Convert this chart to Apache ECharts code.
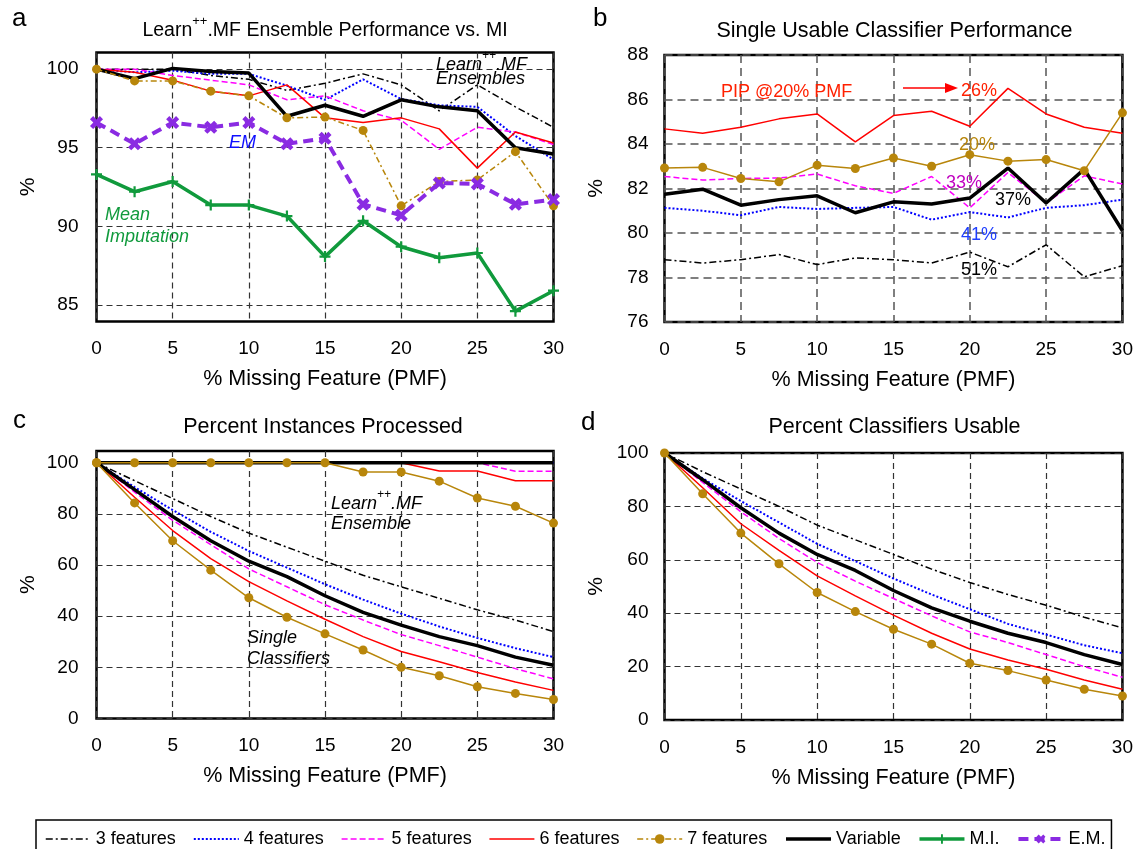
<!DOCTYPE html>
<html>
<head>
<meta charset="utf-8">
<script src="https://cdn.jsdelivr.net/npm/echarts@6/dist/echarts.min.js"></script>
<style>
    html, body {margin: 0; padding: 0; background: #fff}
    #chart {width: 1136px; height: 849px}
</style>
</head>
<body>
<div id="chart"></div>
<script>
// % missing feature
var pmf = [0, 2.5, 5, 7.5, 10, 12.5, 15, 17.5, 20, 22.5, 25, 27.5, 30]

// a: ensemble performance vs MI
var a3 = [100, 100, 100, 99.6, 99.35, 98.65, 99.1, 99.7, 99.0, 97.35, 99.0, 97.6, 96.3]
var a4 = [100, 99.8, 99.9, 99.7, 99.7, 98.95, 98.05, 99.35, 98.1, 97.7, 97.6, 95.75, 94.25]
var a5 = [100, 100, 99.6, 99.3, 99.0, 98.05, 98.3, 97.35, 96.75, 94.9, 96.3, 96.0, 95.2]
var a6 = [100, 99.8, 99.3, 98.6, 98.3, 99.0, 96.9, 96.6, 96.9, 96.2, 93.7, 96.0, 95.3]
var a7 = [100, 99.25, 99.25, 98.6, 98.3, 96.9, 96.95, 96.1, 91.3, 92.85, 92.95, 94.75, 91.3]
var aVar = [100, 99.4, 100.05, 99.85, 99.75, 97.0, 97.7, 97.0, 98.05, 97.6, 97.35, 95.0, 94.6]
var aMI = [93.3, 92.2, 92.85, 91.35, 91.35, 90.65, 88.07, 90.35, 88.7, 88.0, 88.3, 84.6, 85.9]
var aEM = [96.6, 95.25, 96.6, 96.3, 96.6, 95.25, 95.6, 91.4, 90.7, 92.75, 92.7, 91.4, 91.7]

// b: single usable classifier performance
var b3 = [78.8, 78.65, 78.8, 79.03, 78.58, 78.88, 78.8, 78.65, 79.14, 78.48, 79.47, 78.03, 78.53]
var b4 = [81.13, 81.0, 80.8, 81.17, 81.08, 81.13, 81.17, 80.6, 80.94, 80.7, 81.13, 81.25, 81.5]
var b5 = [82.54, 82.38, 82.45, 82.47, 82.65, 82.12, 81.78, 82.54, 81.13, 82.72, 81.35, 82.57, 82.2]
var b6 = [84.68, 84.48, 84.75, 85.13, 85.35, 84.1, 85.28, 85.47, 84.8, 86.5, 85.35, 84.75, 84.48]
var b7 = [82.92, 82.95, 82.45, 82.3, 83.05, 82.9, 83.37, 83.0, 83.52, 83.23, 83.3, 82.8, 85.4]
var bVar = [81.74, 81.97, 81.25, 81.5, 81.67, 80.91, 81.4, 81.3, 81.57, 82.92, 81.35, 82.87, 80.1]

// c: percent instances processed (single classifiers / ensemble)
var c3 = [100, 93, 86, 79, 72.5, 67, 61.5, 56, 51.5, 47, 42.5, 38.5, 34]
var c4 = [100, 90.5, 81.5, 73, 65.5, 59, 52.5, 46.5, 41, 36, 31.5, 27.5, 24]
var c5 = [100, 88.5, 77.5, 68, 58.5, 51.5, 44.5, 38.5, 32.8, 28.5, 24, 19.5, 15.5]
var c6 = [100, 86.5, 73.5, 62.5, 53.5, 46, 38.8, 32, 26.2, 22.2, 18, 14.3, 11]
var c7 = [100, 84.3, 69.5, 58, 47.2, 39.6, 33.1, 26.8, 20, 16.7, 12.4, 9.8, 7.45]
var cVar = [100, 89.5, 79, 69.5, 61.5, 55.5, 48, 41.5, 36.5, 32, 28.5, 24, 20.8]
var cEns3 = [100, 100, 100, 100, 100, 100, 100, 100, 100, 100, 100, 100, 100]
var cEns4 = [100, 100, 100, 100, 100, 100, 100, 100, 100, 100, 100, 100, 100]
var cEns5 = [100, 100, 100, 100, 100, 100, 100, 100, 100, 100, 100, 96.7, 96.7]
var cEns6 = [100, 100, 100, 100, 100, 100, 100, 100, 100, 96.8, 96.8, 93.0, 93.0]
var cEns7 = [100, 100, 100, 100, 100, 100, 100, 96.4, 96.4, 92.8, 86.2, 83.0, 76.4]
var cEnsVar = [100, 100, 100, 100, 100, 100, 100, 100, 100, 100, 100, 100, 100]

// d: percent classifiers usable
var d3 = [100, 93, 86.5, 80, 73, 67.5, 62, 56.5, 51.5, 47, 43, 38.5, 34.5]
var d4 = [100, 90.5, 82, 74, 66, 59.5, 53, 47, 41.5, 36, 32, 28, 25]
var d5 = [100, 89, 78, 68, 59, 52, 45.5, 39, 33, 29, 24.5, 20, 16]
var d6 = [100, 87, 73.5, 63.5, 54, 46.5, 39.3, 32.5, 26.6, 22.5, 19, 15, 11.5]
var d7 = [100, 84.75, 70, 58.5, 47.75, 40.6, 34, 28.4, 21.25, 18.5, 15, 11.5, 9]
var dVar = [100, 90, 79.5, 70, 62, 56, 48.5, 42, 37, 32.5, 29, 24.5, 20.8]

var names = ['3 features', '4 features', '5 features', '6 features', '7 features', 'Variable', 'M.I.', 'E.M.']
var yTicksA = [85, 90, 95, 100]
var yTicksC = [0, 20, 40, 60, 80, 100]

var FONT = '"Liberation Sans", Arial, sans-serif'
var GOLD = '#B8860B'
var GREEN = '#109A3C'
var PURPLE = '#8A2BE2'
var PLUS = 'path://M-1,-5 L1,-5 L1,-1 L5,-1 L5,1 L1,1 L1,5 L-1,5 L-1,1 L-5,1 L-5,-1 L-1,-1 Z'
var CROSS = 'path://M-1.6,-5 L1.6,-5 L1.6,-1.6 L5,-1.6 L5,1.6 L1.6,1.6 L1.6,5 L-1.6,5 L-1.6,1.6 L-5,1.6 L-5,-1.6 L-1.6,-1.6 Z'

var styles = {
    '3 features': {color: '#000', width: 1.5, type: [7, 3, 2, 3]},
    '4 features': {color: '#0000FF', width: 2, type: [2, 2]},
    '5 features': {color: '#FF00FF', width: 1.5, type: [6, 3]},
    '6 features': {color: '#FF0000', width: 1.5, type: 'solid'},
    '7 features': {color: GOLD, width: 1.5, type: 'solid'},
    'Variable': {color: '#000', width: 3.5, type: 'solid'},
    'M.I.': {color: GREEN, width: 3.5, type: 'solid'},
    'E.M.': {color: PURPLE, width: 4, type: [10, 6]}
}

function line(name, gi, vals, extra) {
    var st = styles[name]
    var data = []
    for (var i = 0; i < pmf.length; i++) data.push([pmf[i], vals[i]])
    var s = {
        name: name, type: 'line', xAxisIndex: gi, yAxisIndex: gi, data: data,
        symbol: 'none', animation: false, silent: true,
        lineStyle: {color: st.color, width: st.width, type: st.type},
        itemStyle: {color: st.color}
    }
    if (name == '7 features') { s.symbol = 'circle'; s.symbolSize = 9 }
    if (name == 'M.I.') { s.symbol = PLUS; s.symbolSize = 11 }
    if (name == 'E.M.') { s.symbol = CROSS; s.symbolSize = 14; s.symbolRotate = 45 }
    if (extra) for (var k in extra) s[k] = extra[k]
    return s
}

var grids = [
    {left: 96.5, top: 52.5, width: 457, height: 269},
    {left: 664.5, top: 55, width: 460, height: 267},
    {left: 96.5, top: 451, width: 457, height: 267.5},
    {left: 664.5, top: 453, width: 460, height: 267}
]
grids.forEach(function (g) {
    g.show = true
    g.borderColor = '#000'
    g.borderWidth = 2.5
    g.backgroundColor = 'transparent'
})

function gridLine(gi) {
    return gi == 1 ? {color: '#555', type: [8, 5], width: 1.5} : {color: '#333', type: [6, 4], width: 1.2}
}

var xAxes = [], yAxes = []
for (var gi = 0; gi < 4; gi++) {
    xAxes.push({
        type: 'value', gridIndex: gi, min: 0, max: 30, interval: 5,
        name: '% Missing Feature (PMF)', nameLocation: 'middle', nameGap: 47,
        nameTextStyle: {fontSize: 21.5, color: '#000', fontFamily: FONT},
        axisLine: {show: false}, axisTick: {show: false},
        axisLabel: {fontSize: 19, color: '#000', margin: 18, fontFamily: FONT},
        splitLine: {show: true, lineStyle: gridLine(gi)}
    })
}
var yBase = {
    type: 'value', name: '%', nameLocation: 'middle', nameGap: 58, nameRotate: 90,
    nameTextStyle: {fontSize: 21, color: '#000', fontFamily: FONT},
    axisLine: {show: false},
    axisLabel: {fontSize: 19, color: '#000', margin: 18, fontFamily: FONT}
}
yAxes.push(Object.assign({}, yBase, {
    gridIndex: 0, min: 83.94, max: 101.06,
    axisTick: {show: false, customValues: yTicksA},
    axisLabel: Object.assign({}, yBase.axisLabel, {customValues: yTicksA}),
    splitLine: {show: true, lineStyle: gridLine(0)}
}))
yAxes.push(Object.assign({}, yBase, {
    gridIndex: 1, min: 76, max: 88, interval: 2, axisTick: {show: false},
    axisLabel: Object.assign({}, yBase.axisLabel, {margin: 16}),
    splitLine: {show: true, lineStyle: gridLine(1)}
}))
yAxes.push(Object.assign({}, yBase, {
    gridIndex: 2, min: 0, max: 104.6,
    axisTick: {show: false, customValues: yTicksC},
    axisLabel: Object.assign({}, yBase.axisLabel, {customValues: yTicksC}),
    splitLine: {show: true, lineStyle: gridLine(2)}
}))
yAxes.push(Object.assign({}, yBase, {
    gridIndex: 3, min: 0, max: 100, interval: 20, axisTick: {show: false},
    axisLabel: Object.assign({}, yBase.axisLabel, {margin: 16}),
    splitLine: {show: true, lineStyle: gridLine(3)}
}))

var series = [
    // a
    line('3 features', 0, a3), line('4 features', 0, a4), line('5 features', 0, a5),
    line('6 features', 0, a6), line('Variable', 0, aVar),
    line('7 features', 0, a7, {lineStyle: {color: GOLD, width: 1.5, type: [6, 3, 2, 3]}}),
    line('M.I.', 0, aMI), line('E.M.', 0, aEM),
    // b
    line('3 features', 1, b3), line('4 features', 1, b4), line('5 features', 1, b5),
    line('6 features', 1, b6), line('7 features', 1, b7), line('Variable', 1, bVar),
    // c
    line('3 features', 2, c3), line('4 features', 2, c4), line('5 features', 2, c5),
    line('6 features', 2, c6), line('Variable', 2, cVar), line('7 features', 2, c7),
    line('3 features', 2, cEns3), line('4 features', 2, cEns4), line('5 features', 2, cEns5),
    line('6 features', 2, cEns6), line('Variable', 2, cEnsVar), line('7 features', 2, cEns7),
    // d
    line('3 features', 3, d3), line('4 features', 3, d4), line('5 features', 3, d5),
    line('6 features', 3, d6), line('Variable', 3, dVar), line('7 features', 3, d7)
]

// 图例：无标记的线不画圆点
var legendData = names.map(function (n) {
    var item = {name: n, lineStyle: {width: styles[n].width}}
    if (n != '7 features' && n != 'M.I.' && n != 'E.M.') item.itemStyle = {opacity: 0}
    return item
})

//文字标注
function txt(x, y, text, opt) {
    var style = {
        x: x, y: y, text: text, fill: '#000',
        font: '18px ' + FONT, textAlign: 'left', textVerticalAlign: 'middle'
    }
    if (opt) for (var k in opt) style[k] = opt[k]
    return {type: 'text', z: 100, silent: true, style: style}
}
var it = 'italic 18px ' + FONT
var big = '21.5px ' + FONT
var supRich = {
    t: {fontSize: 19.5, fontFamily: FONT, lineHeight: 26, verticalAlign: 'bottom'},
    ts: {fontSize: 13, fontFamily: FONT, lineHeight: 26, verticalAlign: 'top'},
    mi: {fontSize: 18, fontStyle: 'italic', fontFamily: FONT, lineHeight: 24, verticalAlign: 'bottom'},
    si: {fontSize: 12, fontStyle: 'italic', fontFamily: FONT, lineHeight: 24, verticalAlign: 'top'}
}
var graphics = [
    txt(12, 19, 'a', {font: '26px ' + FONT}),
    txt(593, 19, 'b', {font: '26px ' + FONT}),
    txt(13, 421, 'c', {font: '26px ' + FONT}),
    txt(581, 423, 'd', {font: '26px ' + FONT}),
    txt(325, 28, '{t|Learn}{ts|++}{t|.MF Ensemble Performance vs. MI}', {textAlign: 'center', rich: supRich}),
    txt(894.5, 31, 'Single Usable Classifier Performance', {textAlign: 'center', font: big}),
    txt(323, 427, 'Percent Instances Processed', {textAlign: 'center', font: big}),
    txt(894.5, 427, 'Percent Classifiers Usable', {textAlign: 'center', font: big}),
    // a
    txt(436, 62, '{mi|Learn}{si|++}{mi|.MF}', {rich: supRich}),
    txt(436, 79, 'Ensembles', {font: it}),
    txt(229, 143, 'EM', {font: it, fill: '#1010FF'}),
    txt(105, 215, 'Mean', {font: it, fill: GREEN}),
    txt(105, 237, 'Imputation', {font: it, fill: GREEN}),
    // b
    txt(721, 92, 'PIP @20% PMF', {fill: '#FF2000'}),
    txt(961, 91, '26%', {fill: '#FF2000'}),
    txt(959, 145, '20%', {fill: GOLD}),
    txt(946, 183, '33%', {fill: '#C000C0'}),
    txt(995, 200, '37%', {fill: '#000'}),
    txt(961, 235, '41%', {fill: '#1F3FFF'}),
    txt(961, 270, '51%', {fill: '#000'}),
    {type: 'line', z: 100, silent: true, shape: {x1: 903, y1: 88, x2: 948, y2: 88}, style: {stroke: '#FF0000', lineWidth: 1.5}},
    {type: 'polygon', z: 100, silent: true, shape: {points: [[945, 83], [958, 88], [945, 93]]}, style: {fill: '#FF0000'}},
    // c
    txt(331, 501, '{mi|Learn}{si|++}{mi|.MF}', {rich: supRich}),
    txt(331, 524, 'Ensemble', {font: it}),
    txt(247, 638, 'Single', {font: it}),
    txt(247, 659, 'Classifiers', {font: it})
]

var chart = echarts.init(document.getElementById('chart'))
chart.setOption({
    backgroundColor: '#fff',
    animation: false,
    textStyle: {fontFamily: FONT},
    grid: grids,
    xAxis: xAxes,
    yAxis: yAxes,
    legend: {
        data: legendData, left: 36, top: 820, orient: 'horizontal',
        itemWidth: 45, itemHeight: 12, itemGap: 17, selectedMode: false,
        padding: [10, 6, 30, 9],
        borderColor: '#000', borderWidth: 1.5, borderRadius: 0,
        textStyle: {fontSize: 18, color: '#000', fontFamily: FONT}
    },
    series: series,
    graphic: graphics
})
</script>
</body>
</html>
